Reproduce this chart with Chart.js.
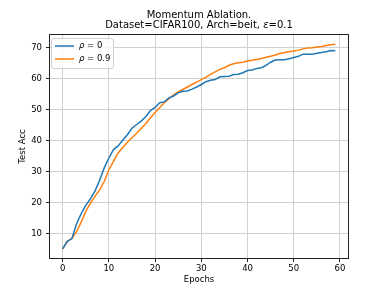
<!DOCTYPE html>
<html>
<head>
<meta charset="utf-8">
<script src="https://cdn.jsdelivr.net/npm/chart.js@4.4.0/dist/chart.umd.min.js"></script>
<style>
html, body { margin: 0; padding: 0; background: #fff; }
</style>
</head>
<body>
<canvas id="chart" width="388" height="291"></canvas>
<script>
const epochs = [0, 1, 2, 3, 4, 5, 6, 7, 8, 9, 10, 11, 12, 13, 14, 15, 16, 17, 18, 19,
    20, 21, 22, 23, 24, 25, 26, 27, 28, 29, 30, 31, 32, 33, 34, 35, 36, 37, 38, 39,
    40, 41, 42, 43, 44, 45, 46, 47, 48, 49, 50, 51, 52, 53, 54, 55, 56, 57, 58, 59];

const accRho0 = [5.2, 7.6, 8.5, 13.2, 16.5, 19.2, 21.3, 23.8, 27.3, 31.3,
    34.5, 37.2, 38.4, 40.2, 42.0, 44.1, 45.3, 46.4, 47.9, 49.8,
    50.8, 52.3, 52.6, 53.9, 54.5, 55.5, 56.0, 56.1, 56.7, 57.4,
    58.2, 59.1, 59.6, 59.8, 60.7, 60.8, 60.9, 61.4, 61.5, 62.0,
    62.7, 62.9, 63.4, 63.6, 64.4, 65.4, 66.1, 66.2, 66.2, 66.5,
    66.9, 67.3, 68.0, 68.0, 68.0, 68.3, 68.5, 68.8, 69.2, 69.1];

const accRho09 = [5.2, 7.6, 8.5, 10.7, 13.7, 17.2, 19.9, 22.1, 24.2, 26.9,
    30.7, 33.4, 36.1, 37.9, 39.6, 41.0, 42.5, 44.0, 45.6, 47.5,
    49.2, 50.8, 52.3, 53.6, 54.9, 55.8, 56.6, 57.4, 58.2, 59.0,
    59.8, 60.6, 61.5, 62.3, 63.1, 63.6, 64.4, 64.9, 65.2, 65.4,
    65.8, 66.0, 66.3, 66.6, 67.0, 67.3, 67.7, 68.2, 68.5, 68.8,
    69.0, 69.3, 69.7, 70.0, 70.1, 70.3, 70.5, 70.8, 71.0, 71.2];

const xTicks = [0, 10, 20, 30, 40, 50, 60];
const yTicks = [10, 20, 30, 40, 50, 60, 70];

const FONT = "'DejaVu Sans', sans-serif";
const gridColor = '#d0d0d0';

// title, frame and in-plot legend drawn like matplotlib
const decorPlugin = {
    id: 'decor',
    afterDatasetsDraw(chart) {
        const ctx = chart.ctx;
        const a = chart.chartArea;
        ctx.save();

        // frame
        ctx.strokeStyle = '#222';
        ctx.lineWidth = 1;
        ctx.strokeRect(a.left + 0.5, a.top + 0.5, a.right - a.left - 1, a.bottom - a.top - 1);

        // title
        const cx = (a.left + a.right) / 2;
        ctx.fillStyle = '#000';
        ctx.textBaseline = 'middle';
        ctx.textAlign = 'center';
        ctx.font = '10px ' + FONT;
        ctx.fillText('Momentum Ablation.', cx, 15);
        const p1 = 'Dataset=CIFAR100, Arch=beit, ';
        const p3 = '=0.1';
        ctx.font = '10px ' + FONT;
        const w1 = ctx.measureText(p1).width;
        const w3 = ctx.measureText(p3).width;
        ctx.font = 'italic 10px ' + FONT;
        const w2 = ctx.measureText('ε').width;
        let x = cx - (w1 + w2 + w3) / 2;
        ctx.textAlign = 'left';
        ctx.font = '10px ' + FONT;
        ctx.fillText(p1, x, 25.5);
        x += w1;
        ctx.font = 'italic 10px ' + FONT;
        ctx.fillText('ε', x, 25.5);
        x += w2;
        ctx.font = '10px ' + FONT;
        ctx.fillText(p3, x, 25.5);

        // legend
        const lx = a.left + 2.5, ly = a.top + 4.5, lw = 62, lh = 30, r = 2.5;
        ctx.beginPath();
        ctx.moveTo(lx + r, ly);
        ctx.arcTo(lx + lw, ly, lx + lw, ly + lh, r);
        ctx.arcTo(lx + lw, ly + lh, lx, ly + lh, r);
        ctx.arcTo(lx, ly + lh, lx, ly, r);
        ctx.arcTo(lx, ly, lx + lw, ly, r);
        ctx.closePath();
        ctx.fillStyle = 'rgba(255,255,255,0.8)';
        ctx.fill();
        ctx.strokeStyle = '#d0d0d0';
        ctx.lineWidth = 1;
        ctx.stroke();

        const items = [['0', '#1f77b4', 46], ['0.9', '#ff7f0e', 59]];
        items.forEach(function(it) {
            ctx.strokeStyle = it[1];
            ctx.lineWidth = 1.5;
            ctx.beginPath();
            ctx.moveTo(a.left + 6, it[2]);
            ctx.lineTo(a.left + 25, it[2]);
            ctx.stroke();
            ctx.fillStyle = '#000';
            ctx.textAlign = 'left';
            ctx.textBaseline = 'middle';
            let tx = a.left + 30;
            ctx.font = 'italic 8.5px ' + FONT;
            ctx.fillText('ρ', tx, it[2]);
            tx += ctx.measureText('ρ').width;
            ctx.font = '8.5px ' + FONT;
            ctx.fillText(' = ' + it[0], tx, it[2]);
        });
        ctx.restore();
    }
};

const ctx = document.getElementById('chart').getContext('2d');
new Chart(ctx, {
    type: 'line',
    data: {
        datasets: [{
            label: 'ρ=0',
            data: epochs.map((e, i) => ({ x: e, y: accRho0[i] })),
            borderColor: '#1f77b4',
            borderWidth: 1.5,
            pointRadius: 0,
            fill: false
        }, {
            label: 'ρ=0.9',
            data: epochs.map((e, i) => ({ x: e, y: accRho09[i] })),
            borderColor: '#ff7f0e',
            borderWidth: 1.5,
            pointRadius: 0,
            fill: false
        }]
    },
    options: {
        responsive: false,
        animation: false,
        devicePixelRatio: 1,
        layout: { padding: { left: 0, right: 39, top: 34, bottom: 0 } },
        plugins: {
            legend: { display: false },
            title: { display: false },
            tooltip: { enabled: false }
        },
        scales: {
            x: {
                type: 'linear',
                min: -2.95,
                max: 61.95,
                afterBuildTicks: function(scale) {
                    scale.ticks = xTicks.map(v => ({ value: v }));
                },
                afterFit: function(scale) { scale.height = 32; },
                ticks: {
                    autoSkip: false,
                    maxRotation: 0,
                    padding: 2,
                    color: '#000',
                    font: { family: FONT, size: 8.5 }
                },
                grid: { color: gridColor, tickColor: '#222', tickLength: 3 },
                border: { display: false },
                title: {
                    display: true,
                    text: 'Epochs',
                    color: '#000',
                    font: { family: FONT, size: 8.5 },
                    padding: { top: 6, bottom: 6 }
                }
            },
            y: {
                min: 1.9,
                max: 74.5,
                afterBuildTicks: function(scale) {
                    scale.ticks = yTicks.map(v => ({ value: v }));
                },
                afterFit: function(scale) { scale.width = 49; },
                ticks: {
                    autoSkip: false,
                    padding: 4,
                    color: '#000',
                    font: { family: FONT, size: 8.5 }
                },
                grid: { color: gridColor, tickColor: '#222', tickLength: 3 },
                border: { display: false },
                title: {
                    display: true,
                    text: 'Test Acc',
                    color: '#000',
                    font: { family: FONT, size: 8.5 },
                    padding: { top: 18, bottom: 18 }
                }
            }
        }
    },
    plugins: [decorPlugin]
});
</script>
</body>
</html>
